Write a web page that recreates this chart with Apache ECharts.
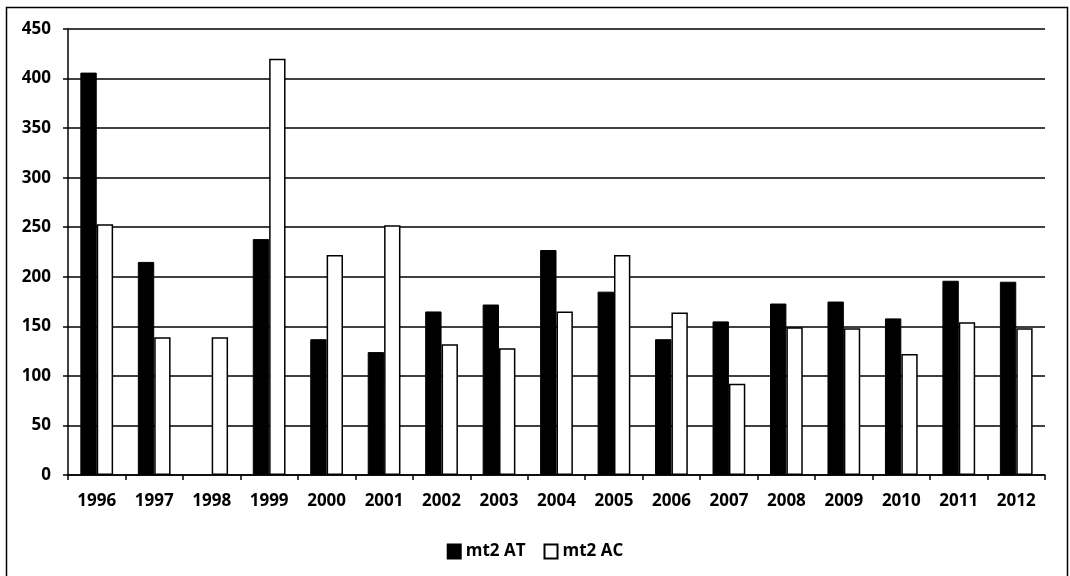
<!DOCTYPE html>
<html>
<head>
<meta charset="utf-8">
<script src="https://cdn.jsdelivr.net/npm/echarts@6/dist/echarts.min.js"></script>
<style>
  html, body { margin: 0; padding: 0; background: #fff; }
  #chart { width: 1070px; height: 576px; }
</style>
</head>
<body>
<div id="chart"></div>
<script>
var years = ["1996", "1997", "1998", "1999", "2000", "2001", "2002", "2003", "2004",
             "2005", "2006", "2007", "2008", "2009", "2010", "2011", "2012"];
var mt2AT = [406, 215, null, 238, 137, 124, 165, 172, 227, 185, 137, 155, 173, 175, 158, 196, 195];
var mt2AC = [253, 139, 139, 420, 222, 252, 132, 128, 165, 222, 164, 92, 149, 148, 122, 154, 148];
var yTicks = { min: 0, max: 450, interval: 50 };

var chart = echarts.init(document.getElementById("chart"));
var font = "'Open Sans', sans-serif";

var option = {
  animation: false,
  backgroundColor: "#fff",
  graphic: [
    {
      type: "rect",
      shape: { x: 6.5, y: 7.5, width: 1061, height: 575 },
      style: { fill: "none", stroke: "#000", lineWidth: 1.5 },
      silent: true
    }
  ],
  grid: { left: 68, right: 25, top: 29, bottom: 101 },
  legend: {
    top: 538,
    left: "center",
    itemWidth: 13,
    itemHeight: 14,
    itemGap: 18,
    icon: "rect",
    textStyle: { fontFamily: font, fontSize: 17, fontWeight: "bold", color: "#000" },
    data: ["mt2 AT", "mt2 AC"]
  },
  xAxis: {
    type: "category",
    data: years,
    axisLine: { lineStyle: { color: "#000", width: 1.5 } },
    axisTick: { show: true, length: 5, lineStyle: { color: "#000", width: 1.5 } },
    axisLabel: { fontFamily: font, fontSize: 17, fontWeight: "bold", color: "#000", margin: 18 }
  },
  yAxis: {
    type: "value",
    min: yTicks.min,
    max: yTicks.max,
    interval: yTicks.interval,
    axisLine: { show: true, lineStyle: { color: "#000", width: 1.5 } },
    axisTick: { show: true, length: 5, lineStyle: { color: "#000", width: 1.5 } },
    axisLabel: { fontFamily: font, fontSize: 17, fontWeight: "bold", color: "#000", margin: 17 },
    splitLine: { show: true, lineStyle: { color: "#000", width: 1.5 } }
  },
  series: [
    {
      name: "mt2 AT",
      type: "bar",
      data: mt2AT,
      barGap: "0%",
      barCategoryGap: "43%",
      itemStyle: { color: "#000", borderColor: "#000", borderWidth: 1 }
    },
    {
      name: "mt2 AC",
      type: "bar",
      data: mt2AC,
      itemStyle: { color: "#fff", borderColor: "#000", borderWidth: 1.5 }
    }
  ]
};
chart.setOption(option);
</script>
</body>
</html>
